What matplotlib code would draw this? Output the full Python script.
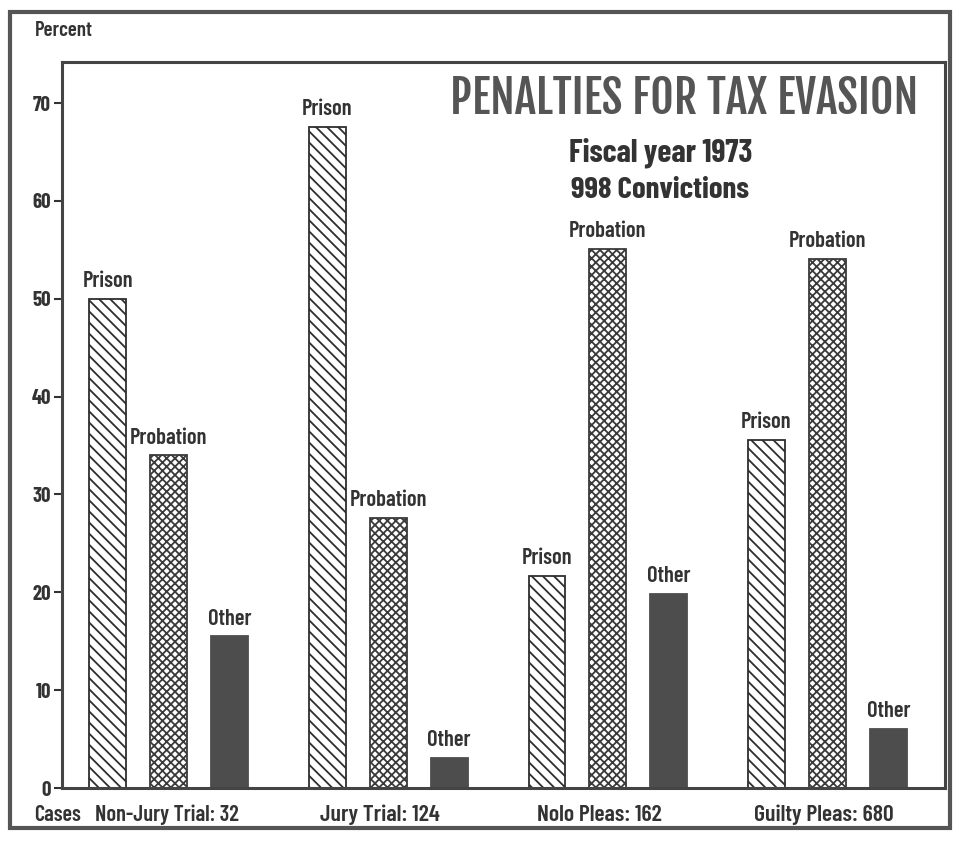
import matplotlib
matplotlib.use("Agg")
import matplotlib.pyplot as plt
from matplotlib.patches import Rectangle
from matplotlib import font_manager

groups = ["Non-Jury Trial: 32", "Jury Trial: 124", "Nolo Pleas: 162", "Guilty Pleas: 680"]
penalties = ["Prison", "Probation", "Other"]
prison = [50.0, 67.6, 21.7, 35.6]
probation = [34.0, 27.6, 55.1, 54.1]
other = [15.5, 3.1, 19.8, 6.0]
yticks = [0, 10, 20, 30, 40, 50, 60, 70]

names = {f.name for f in font_manager.fontManager.ttflist}


def pick(cands):
    for c in cands:
        if c in names:
            return c
    return "DejaVu Sans"


fam = pick(["Barlow Condensed", "Archivo Narrow", "Asap Condensed", "Barlow Semi Condensed"])
title_fam = pick(["Fjalla One", "Barlow Condensed"])
plt.rcParams["font.family"] = [fam, "DejaVu Sans"]
plt.rcParams["hatch.linewidth"] = 1.3

ink = "#333333"
fig = plt.figure(figsize=(9.57, 8.44), dpi=100)
renderer = fig.canvas.get_renderer()
W, H = 957.0, 844.0


def fit(t, target_px):
    w = t.get_window_extent(renderer).width
    if w > 0:
        t.set_fontsize(t.get_fontsize() * target_px / w)
    return t


ax = fig.add_axes([62 / W, 1 - 788 / H, (945 - 62) / W, (788 - 62) / H])

gap = 3.6
width = 0.6
series = [prison, probation, other]
styles = [dict(facecolor="white", hatch="\\\\\\", edgecolor="#2e2e2e"),
          dict(facecolor="white", hatch="xxxx", edgecolor="#3a3a3a"),
          dict(facecolor="#4d4d4d", hatch=None, edgecolor="#4d4d4d")]

probe = fig.text(0, 0, "Probation", fontsize=14, fontweight="semibold")
fit(probe, 78)
label_fs = probe.get_fontsize()
probe.remove()

for j, (vals, st) in enumerate(zip(series, styles)):
    xs = [g * gap + j for g in range(len(groups))]
    ax.bar(xs, vals, width=width, linewidth=1.3, **st)
    for x, v in zip(xs, vals):
        ax.text(x, v + 0.8, penalties[j], ha="center", va="bottom",
                fontsize=label_fs, fontweight="semibold", color=ink)

ax.set_xlim(-0.75, 13.73)
ax.set_ylim(0, 74.2)
ax.set_yticks(yticks)
ax.set_yticklabels([str(t) for t in yticks], fontsize=15, fontweight="bold", color=ink)
ax.set_xticks([])
ax.tick_params(axis="y", direction="out", length=6, width=1.5, color=ink, pad=2)
for s in ax.spines.values():
    s.set_color("#444444")
    s.set_linewidth(2.2)

t = fig.text(918 / W, 1 - 99 / H, "PENALTIES FOR TAX EVASION", ha="right", va="center",
             fontsize=36, fontweight="bold", color="#555555",
             family=[title_fam, "DejaVu Sans"])
fit(t, 470)
t = fig.text(661 / W, 1 - 153 / H, "Fiscal year 1973", ha="center", va="center",
             fontsize=20, fontweight="bold", color=ink)
fit(t, 184)
t = fig.text(660 / W, 1 - 191 / H, "998 Convictions", ha="center", va="center",
             fontsize=20, fontweight="bold", color=ink)
fit(t, 178)

t = fig.text(35 / W, 1 - 31 / H, "Percent", ha="left", va="center",
             fontsize=14, fontweight="semibold", color=ink)
fit(t, 58)
t = fig.text(34 / W, 1 - 815 / H, "Cases", ha="left", va="center",
             fontsize=14, fontweight="semibold", color=ink)
fit(t, 47)
starts = [95, 320, 537, 754]
widths = [144, 120, 125, 140]
for g, lab in enumerate(groups):
    t = fig.text(starts[g] / W, 1 - 815 / H, lab, ha="left", va="center",
                 fontsize=14, fontweight="semibold", color=ink)
    fit(t, widths[g])

fig.patches.append(Rectangle((10 / W, 1 - 828 / H), 940 / W, 816 / H,
                             transform=fig.transFigure, fill=False,
                             edgecolor="#555555", linewidth=3))

fig.savefig("out.png", dpi=100, facecolor="white")
